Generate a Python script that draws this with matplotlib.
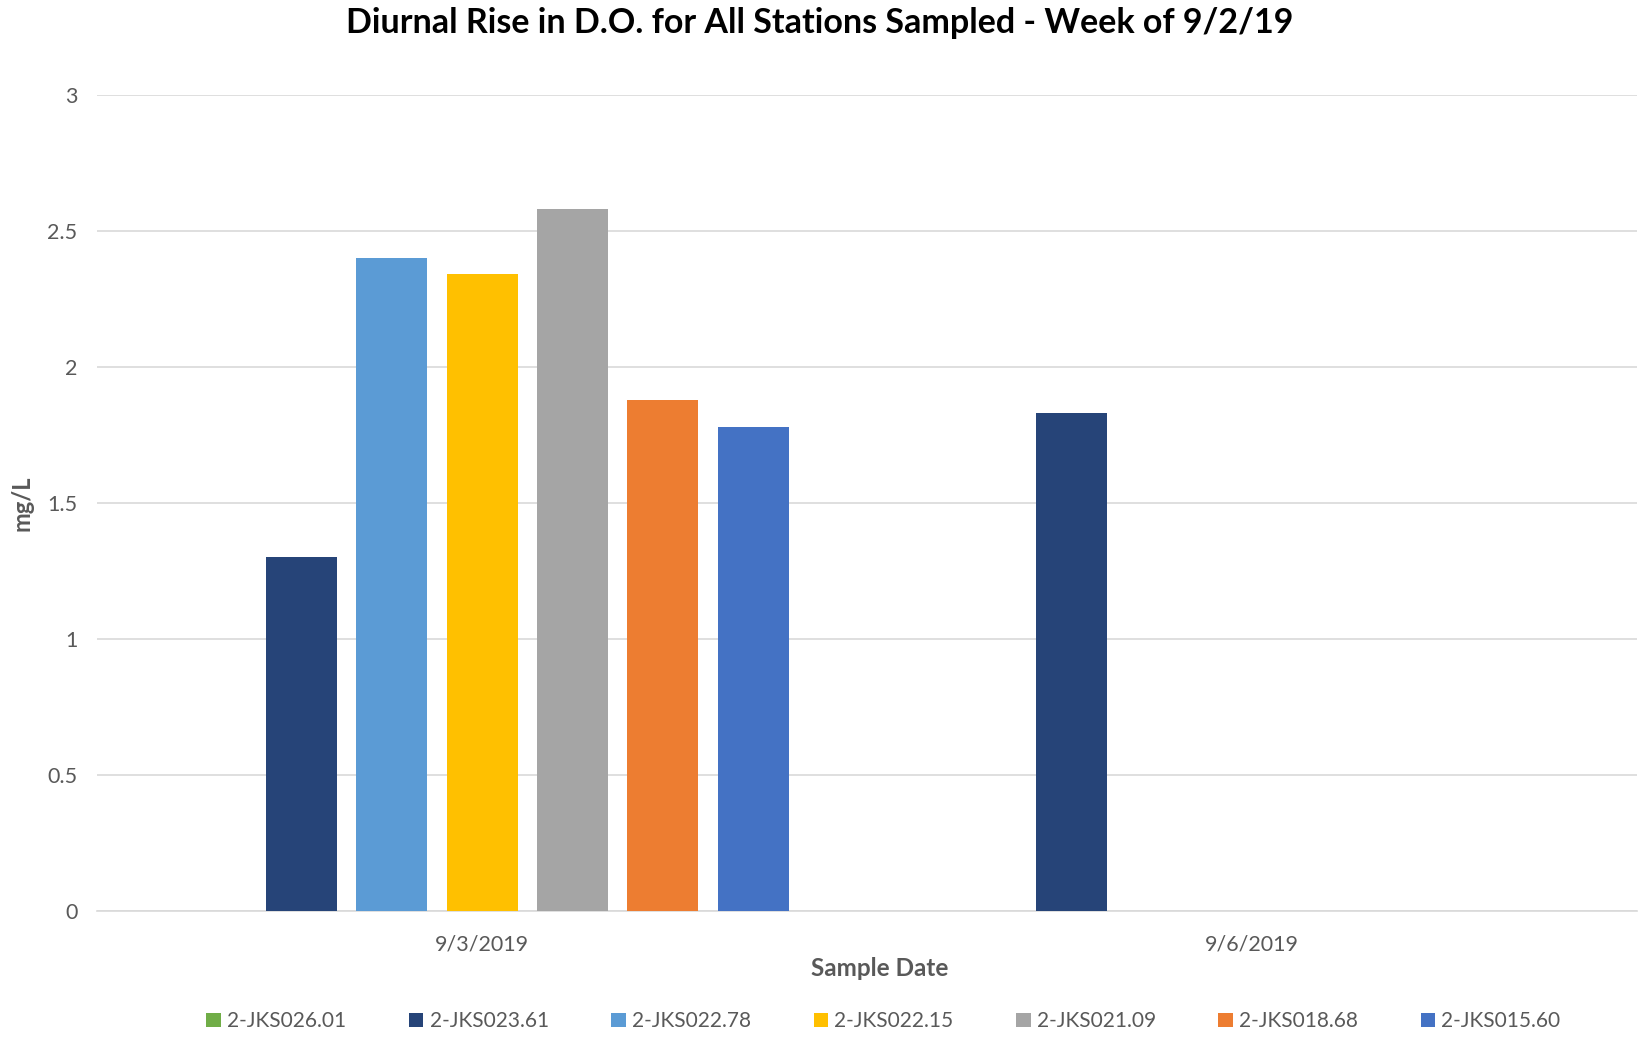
import numpy as np
import matplotlib.pyplot as plt

dates = ["9/3/2019", "9/6/2019"]
stations = ["2-JKS026.01", "2-JKS023.61", "2-JKS022.78", "2-JKS022.15",
            "2-JKS021.09", "2-JKS018.68", "2-JKS015.60"]
colors = ["#70AD47", "#264478", "#5B9BD5", "#FFC000", "#A5A5A5", "#ED7D31", "#4472C4"]
# rows = stations, columns = dates (nan = not sampled)
rise = [
    [np.nan, np.nan],
    [1.30, 1.83],
    [2.40, np.nan],
    [2.34, np.nan],
    [2.58, np.nan],
    [1.88, np.nan],
    [1.78, np.nan],
]

plt.rcParams['font.family'] = ['Lato', 'DejaVu Sans']

fig = plt.figure(figsize=(16.39, 10.38), dpi=100)
ax = fig.add_axes([0.0592, 0.1224, 0.9396, 0.7861])

x = np.arange(len(dates))
slot = 0.1175
width = 0.0922
n = len(stations)
for i, (name, vals, c) in enumerate(zip(stations, rise, colors)):
    ax.bar(x + (i - (n - 1) / 2) * slot, vals, width, color=c, label=name, zorder=3)

ax.set_xlim(-0.5, 1.5)
ax.set_ylim(0, 3)
ax.set_yticks(np.arange(0, 3.01, 0.5))
ax.set_yticklabels(["0", "0.5", "1", "1.5", "2", "2.5", "3"])
ax.set_xticks(x)
ax.set_xticklabels(dates)
ax.grid(axis='y', color='#D9D9D9', linewidth=1.2, zorder=0)
for s in ["top", "right", "left"]:
    ax.spines[s].set_visible(False)
ax.spines["bottom"].set_color('#D9D9D9')
ax.spines["bottom"].set_linewidth(1.2)
ax.tick_params(axis='both', length=0, labelsize=15.5, colors='#595959')
ax.tick_params(axis='y', pad=14)
ax.tick_params(axis='x', pad=17)

ax.set_xlabel("Sample Date", fontsize=17.5, fontweight='bold', color='#595959')
ax.xaxis.set_label_coords(0.5085, -0.057)
ax.set_ylabel("mg/L", fontsize=17, fontweight='bold', color='#595959', labelpad=10)

fig.suptitle("Diurnal Rise in D.O. for All Stations Sampled - Week of 9/2/19",
             fontsize=24.5, fontweight='bold', color='black', y=0.993, va='top')

fig.legend(loc='center', bbox_to_anchor=(0.539, 0.016), ncol=n, frameon=False,
           fontsize=15, handlelength=0.7, handleheight=0.7, handletextpad=0.3,
           columnspacing=3.0, labelcolor='#595959')

fig.savefig("out.png", dpi=100)
